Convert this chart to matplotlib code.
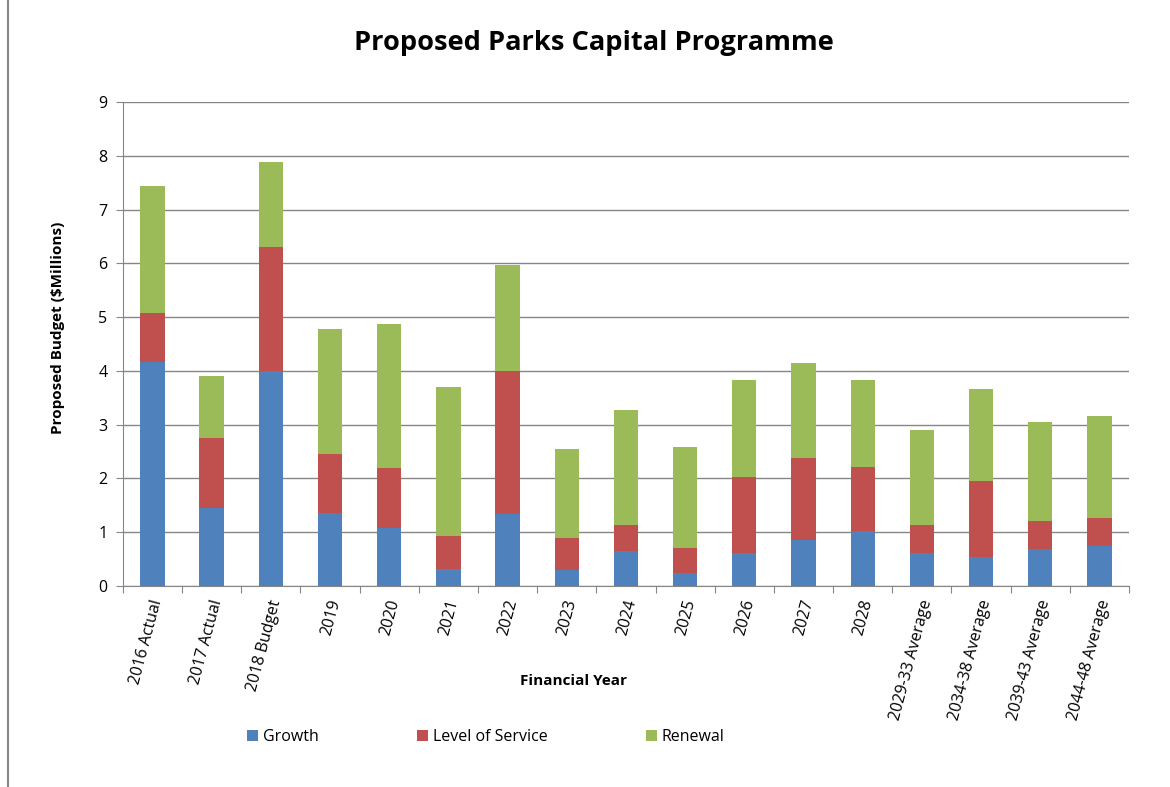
import matplotlib.pyplot as plt
import numpy as np

plt.rcParams['font.family'] = ['Open Sans', 'DejaVu Sans']

years = ["2016 Actual", "2017 Actual", "2018 Budget", "2019", "2020", "2021", "2022",
         "2023", "2024", "2025", "2026", "2027", "2028", "2029-33 Average",
         "2034-38 Average", "2039-43 Average", "2044-48 Average"]
growth = [4.17, 1.45, 4.00, 1.36, 1.08, 0.32, 1.34, 0.30, 0.65, 0.24, 0.61, 0.86, 1.02,
          0.61, 0.54, 0.69, 0.74]
level_of_service = [0.91, 1.30, 2.30, 1.09, 1.11, 0.61, 2.66, 0.59, 0.48, 0.47, 1.42, 1.52,
                    1.19, 0.52, 1.41, 0.52, 0.52]
renewal = [2.36, 1.15, 1.58, 2.33, 2.68, 2.77, 1.97, 1.66, 2.14, 1.87, 1.80, 1.77, 1.62,
           1.77, 1.71, 1.84, 1.90]

blue = "#4F81BD"
red = "#C0504D"
green = "#9BBB59"

fig = plt.figure(figsize=(11.7, 7.87), dpi=100)
ax = fig.add_axes([0.105, 0.2554, 0.86, 0.615])

x = np.arange(len(years))
g = np.array(growth)
l = np.array(level_of_service)
r = np.array(renewal)
w = 0.41
b1 = ax.bar(x, g, w, color=blue, label="Growth", zorder=3)
b2 = ax.bar(x, l, w, bottom=g, color=red, label="Level of Service", zorder=3)
b3 = ax.bar(x, r, w, bottom=g + l, color=green, label="Renewal", zorder=3)

ax.set_xlim(-0.5, len(years) - 0.5)
ax.set_ylim(0, 9)
ax.set_yticks(range(10))
ax.yaxis.grid(True, color="#868686", linewidth=1, zorder=0)
for s in ["top", "right"]:
    ax.spines[s].set_visible(False)
ax.spines["left"].set_color("#868686")
ax.spines["bottom"].set_color("#868686")
ax.tick_params(axis="y", length=5, color="#868686", labelsize=11.5, pad=6)
ax.set_xticks(np.arange(len(years) + 1) - 0.5, minor=False)
ax.set_xticklabels([])
ax.tick_params(axis="x", length=5, color="#868686")
for i, lab in enumerate(years):
    ax.annotate(lab, xy=(i, 0), xycoords=("data", "axes fraction"),
                xytext=(4, -10), textcoords="offset points",
                rotation=75, rotation_mode="anchor", ha="right", va="center",
                fontsize=11.5)

ax.set_ylabel("Proposed Budget ($Millions)", fontsize=11, fontweight="bold")
ax.yaxis.set_label_coords(-0.057, 0.533)
fig.text(574 / 1170, 1 - 681 / 787, "Financial Year", ha="center", va="center",
         fontsize=11, fontweight="bold")
fig.text(594 / 1170, 1 - 43 / 787, "Proposed Parks Capital Programme", ha="center",
         va="center", fontsize=19.6, fontweight="bold")

for handle, lx in [(b1, 247), (b2, 417), (b3, 646)]:
    fig.legend([handle], [handle.get_label()], loc="center left",
               bbox_to_anchor=(lx / 1170, 1 - 737 / 787), frameon=False,
               fontsize=11.5, handlelength=0.7, handleheight=0.7,
               handletextpad=0.3, borderpad=0, borderaxespad=0)

fig.add_artist(plt.Line2D([8 / 1170, 8 / 1170], [0, 1], color="#868686", linewidth=1.5))

fig.savefig("out.png", dpi=100)
